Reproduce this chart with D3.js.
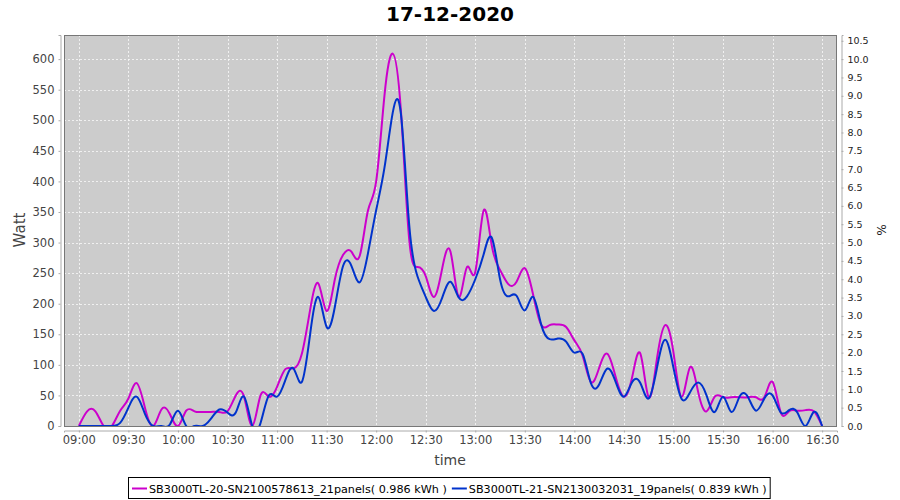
<!DOCTYPE html>
<html><head><meta charset="utf-8">
<script src="https://cdn.jsdelivr.net/npm/d3@7"></script>
<style>body{margin:0;background:#fff;} svg{display:block;font-family:"DejaVu Sans",sans-serif;}</style>
</head><body><svg id="c" width="900" height="500"></svg>
<script>
const chartTitle = "17-12-2020";
const xTitle = "time";
const yTitle = "Watt";
const yRightTitle = "%";
// minutes after 09:00 of each sample
const minutes = [0,5,10,15,20,25,30,35,40,45,50,55,60,65,70,75,80,85,90,95,
  100,105,110,115,120,125,130,135,140,145,150,155,160,165,170,175,180,185,190,195,
  200,205,210,215,220,225,230,235,240,245,250,255,260,265,270,275,280,285,290,295,
  300,305,310,315,320,325,330,335,340,345,350,355,360,365,370,375,380,385,390,395,
  400,405,410,415,420,425,430,435,440,445,450];
const seriesNames = ["SB3000TL-20-SN2100578613_21panels( 0.986 kWh )",
                     "SB3000TL-21-SN2130032031_19panels( 0.839 kWh )"];
const pinkValues = [0,24,24,0,0,25,45,70,30,0,
  27,20,0,25,24,23,23,23,24,50,
  48,0,50,48,64,93,94,118,190,233,
  188,240,280,285,278,352,400,540,609,515,
  305,260,245,211,258,285,211,260,252,352,
  295,255,232,236,258,215,165,165,166,162,
  140,115,72,95,118,80,48,80,118,47,
  110,165,120,48,96,55,24,48,47,47,
  47,47,47,47,72,22,24,25,26,24,0];
const blueValues = [0,0,0,0,0,5,30,48,20,0,
  0,2,25,0,0,0,12,27,22,22,
  48,0,5,50,48,75,94,72,150,211,
  162,195,262,262,235,282,353,422,512,510,
  329,245,211,188,210,236,210,212,240,280,
  308,240,212,213,189,211,165,142,143,138,
  120,118,70,68,94,72,48,72,70,45,
  95,141,95,44,55,71,50,23,48,23,
  48,48,25,45,50,22,26,22,0,23,0];
const xTickMinutes = [0,30,60,90,120,150,180,210,240,270,300,330,360,390,420,450];
const xTickLabels = ["09:00","09:30","10:00","10:30","11:00","11:30","12:00","12:30",
  "13:00","13:30","14:00","14:30","15:00","15:30","16:00","16:30"];
const yTicks = [0,50,100,150,200,250,300,350,400,450,500,550,600];
const pctTicks = [0,0.5,1,1.5,2,2.5,3,3.5,4,4.5,5,5.5,6,6.5,7,7.5,8,8.5,9,9.5,10,10.5];
const seriesColors = ["#cc00cc", "#0033cc"];

const svg = d3.select("#c");
const L = 64, R = 837, T = 35, B = 426;
const x = d3.scaleLinear().domain([-9, 459]).range([L, R]);
const yMax = d3.max(pinkValues.concat(blueValues)) * 1.05;
const y = d3.scaleLinear().domain([0, yMax]).range([B, T]);
const yR = d3.scaleLinear().domain([0, yMax / 60]).range([B, T]);

// title
svg.append("text").attr("x", 450).attr("y", 21).attr("text-anchor", "middle")
  .attr("font-size", 20).attr("font-weight", "bold").attr("fill", "#000").text(chartTitle);

// plot background
svg.append("rect").attr("x", L).attr("y", T).attr("width", R - L).attr("height", B - T)
  .attr("fill", "#cccccc");

// grid
const grid = svg.append("g").attr("stroke", "#ffffff").attr("stroke-width", 0.8)
  .attr("stroke-dasharray", "2,2").attr("opacity", 0.9);
xTickMinutes.forEach(m => grid.append("line").attr("x1", Math.round(x(m)) + 0.5).attr("x2", Math.round(x(m)) + 0.5)
  .attr("y1", T).attr("y2", B));
yTicks.forEach(v => grid.append("line").attr("x1", L).attr("x2", R)
  .attr("y1", Math.round(y(v)) + 0.5).attr("y2", Math.round(y(v)) + 0.5));

// clip
svg.append("clipPath").attr("id", "clip").append("rect")
  .attr("x", L).attr("y", T).attr("width", R - L).attr("height", B - T);

const line = d3.line().x((d, i) => x(minutes[i])).y(d => y(d)).curve(d3.curveNatural);
[pinkValues, blueValues].forEach((vals, k) => {
  svg.append("path").attr("clip-path", "url(#clip)").attr("d", line(vals))
    .attr("fill", "none").attr("stroke", seriesColors[k]).attr("stroke-width", 2)
    .attr("stroke-linejoin", "round");
});

// border
svg.append("rect").attr("x", L + 0.5).attr("y", T + 0.5).attr("width", R - L - 1).attr("height", B - T)
  .attr("fill", "none").attr("stroke", "#777").attr("stroke-width", 1);

// left axis
const gl = svg.append("g").attr("transform", "translate(60.5,0)")
  .call(d3.axisLeft(y).tickValues(yTicks).tickSize(2).tickPadding(4).tickFormat(d3.format("d")));
gl.selectAll("text").attr("font-size", 11.5).attr("fill", "#444").attr("font-family", "DejaVu Sans");
gl.selectAll("line,path").attr("stroke", "#aaa");

// right axis
const gr = svg.append("g").attr("transform", "translate(841.5,0)")
  .call(d3.axisRight(yR).tickValues(pctTicks).tickSize(2).tickPadding(4).tickFormat(d3.format(".1f")));
gr.selectAll("text").attr("font-size", 9.5).attr("fill", "#222").attr("font-family", "DejaVu Sans");
gr.selectAll("line,path").attr("stroke", "#aaa");

// bottom axis
const gb = svg.append("g").attr("transform", "translate(0,430.5)")
  .call(d3.axisBottom(x).tickValues(xTickMinutes).tickSize(2).tickPadding(3)
    .tickFormat((d, i) => xTickLabels[i]));
gb.selectAll("text").attr("font-size", 11.5).attr("fill", "#444").attr("font-family", "DejaVu Sans");
gb.selectAll("line,path").attr("stroke", "#aaa");

// axis titles
svg.append("text").attr("x", 450).attr("y", 465).attr("text-anchor", "middle")
  .attr("font-size", 14).attr("fill", "#444").text(xTitle);
svg.append("text").attr("transform", "translate(25,230) rotate(-90)").attr("text-anchor", "middle")
  .attr("font-size", 15).attr("fill", "#444").text(yTitle);
svg.append("text").attr("transform", "translate(877,230) rotate(90)").attr("text-anchor", "middle")
  .attr("font-size", 12).attr("fill", "#222").text(yRightTitle);

// legend
const lg = svg.append("g");
const box = lg.append("rect").attr("fill", "#fff").attr("stroke", "#000").attr("stroke-width", 1);
let cx = 0;
seriesNames.forEach((name, k) => {
  lg.append("line").attr("x1", cx + 3).attr("x2", cx + 18).attr("y1", 488.5).attr("y2", 488.5)
    .attr("stroke", seriesColors[k]).attr("stroke-width", 2);
  const t = lg.append("text").attr("x", cx + 20).attr("y", 492.5).attr("font-size", 11.2)
    .attr("fill", "#000").text(name);
  const w = t.node().getComputedTextLength();
  cx += 20 + w + 2;
});
const totalW = cx + 2;
const x0 = Math.round(450 - totalW / 2);
lg.attr("transform", `translate(${x0},0)`);
box.attr("x", -0.5).attr("y", 477.5).attr("width", totalW).attr("height", 21);
</script></body></html>
